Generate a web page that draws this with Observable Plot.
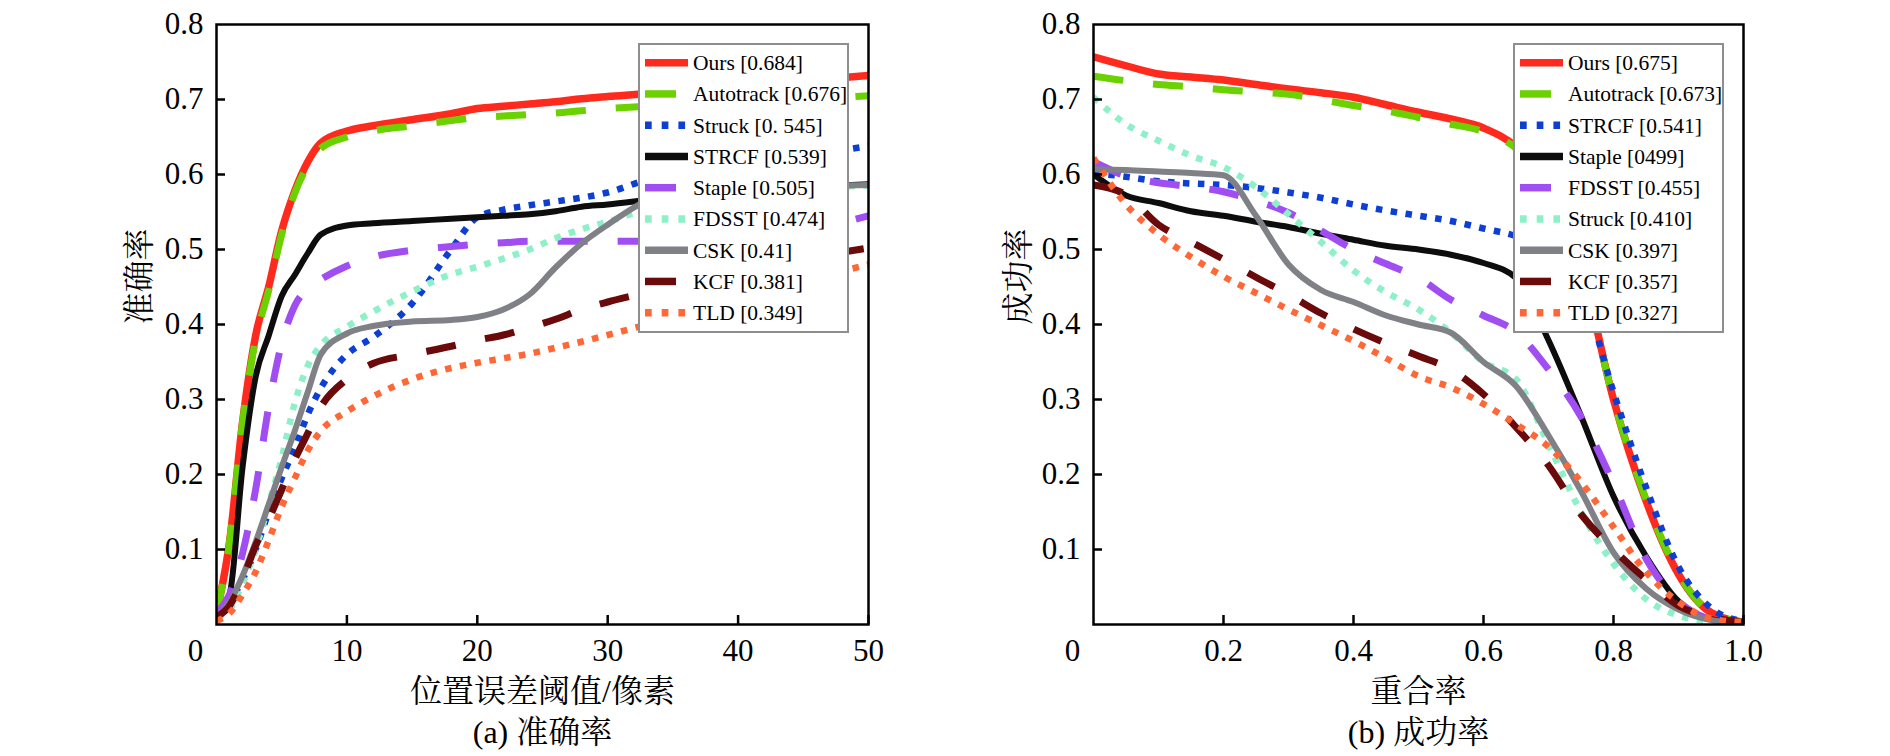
<!DOCTYPE html>
<html>
<head>
<meta charset="utf-8">
<script src="https://cdn.jsdelivr.net/npm/d3@7"></script>
<script src="https://cdn.jsdelivr.net/npm/@observablehq/plot@0.6"></script>
<style>
  html, body { margin: 0; padding: 0; background: #fff; }
  #wrap { position: relative; width: 1890px; height: 756px; overflow: hidden; background: #fff; }
  .panel { position: absolute; top: 0; }
  .legend { position: absolute; }
</style>
</head>
<body>
<div id="wrap"></div>
<script>
// ---------- (a) precision plot data ----------
const precisionThresholds = [0, 1, 2, 3, 4, 5, 6, 7, 8, 10, 12, 15, 18, 20, 22, 24, 26, 28, 30, 33, 36, 40, 45, 50];
const precisionOurs      = [0.015, 0.11, 0.27, 0.385, 0.45, 0.525, 0.578, 0.617, 0.642, 0.658, 0.665, 0.673, 0.681, 0.688, 0.691, 0.694, 0.697, 0.701, 0.704, 0.708, 0.713, 0.718, 0.725, 0.732];
const precisionAutotrack = [0.015, 0.11, 0.27, 0.38, 0.445, 0.52, 0.575, 0.612, 0.635, 0.65, 0.658, 0.665, 0.672, 0.676, 0.678, 0.68, 0.682, 0.685, 0.688, 0.691, 0.694, 0.697, 0.7, 0.705];
const precisionStruck    = [0.01, 0.03, 0.06, 0.1, 0.15, 0.195, 0.235, 0.28, 0.315, 0.36, 0.383, 0.428, 0.5, 0.543, 0.553, 0.559, 0.564, 0.569, 0.576, 0.593, 0.605, 0.615, 0.625, 0.638];
const precisionSTRCF     = [0.015, 0.04, 0.21, 0.33, 0.385, 0.438, 0.466, 0.495, 0.52, 0.532, 0.535, 0.538, 0.541, 0.543, 0.545, 0.547, 0.551, 0.557, 0.56, 0.566, 0.572, 0.578, 0.583, 0.587];
const precisionStaple    = [0.015, 0.04, 0.095, 0.18, 0.29, 0.375, 0.425, 0.448, 0.46, 0.478, 0.49, 0.499, 0.504, 0.507, 0.509, 0.511, 0.511, 0.511, 0.511, 0.511, 0.513, 0.515, 0.525, 0.545];
const precisionFDSST     = [0.01, 0.02, 0.055, 0.1, 0.16, 0.222, 0.295, 0.345, 0.372, 0.397, 0.417, 0.444, 0.467, 0.477, 0.488, 0.5, 0.515, 0.527, 0.537, 0.554, 0.566, 0.576, 0.582, 0.585];
const precisionCSK       = [0.01, 0.03, 0.065, 0.11, 0.16, 0.21, 0.258, 0.31, 0.36, 0.388, 0.398, 0.404, 0.406, 0.41, 0.42, 0.44, 0.476, 0.508, 0.533, 0.565, 0.578, 0.582, 0.584, 0.586];
const precisionKCF       = [0.01, 0.025, 0.06, 0.105, 0.14, 0.18, 0.22, 0.255, 0.29, 0.327, 0.348, 0.36, 0.371, 0.379, 0.386, 0.396, 0.407, 0.42, 0.43, 0.443, 0.458, 0.473, 0.488, 0.502];
const precisionTLD       = [0.005, 0.015, 0.04, 0.07, 0.112, 0.157, 0.195, 0.232, 0.258, 0.284, 0.304, 0.327, 0.342, 0.349, 0.355, 0.361, 0.369, 0.377, 0.386, 0.4, 0.416, 0.435, 0.458, 0.48];
const precisionNames  = ["Ours", "Autotrack", "Struck", "STRCF", "Staple", "FDSST", "CSK", "KCF", "TLD"];
const precisionScores = ["[0.684]", "[0.676]", "[0. 545]", "[0.539]", "[0.505]", "[0.474]", "[0.41]", "[0.381]", "[0.349]"];
const precisionXTicks = [10, 20, 30, 40, 50];

// ---------- (b) success plot data ----------
const overlapThresholds = [0, 0.05, 0.1, 0.15, 0.2, 0.25, 0.3, 0.35, 0.4, 0.45, 0.5, 0.55, 0.6, 0.65, 0.7, 0.75, 0.8, 0.85, 0.9, 0.95, 1.0];
const successOurs      = [0.757, 0.745, 0.734, 0.73, 0.726, 0.72, 0.714, 0.709, 0.703, 0.693, 0.683, 0.674, 0.662, 0.637, 0.585, 0.48, 0.3, 0.165, 0.067, 0.016, 0.003];
const successAutotrack = [0.731, 0.725, 0.72, 0.717, 0.713, 0.71, 0.707, 0.7, 0.692, 0.685, 0.676, 0.667, 0.657, 0.635, 0.583, 0.478, 0.3, 0.167, 0.068, 0.016, 0.003];
const successSTRCF     = [0.602, 0.597, 0.591, 0.588, 0.586, 0.582, 0.576, 0.569, 0.56, 0.552, 0.545, 0.538, 0.528, 0.518, 0.5, 0.45, 0.31, 0.183, 0.077, 0.022, 0.004];
const successStaple    = [0.6, 0.572, 0.562, 0.551, 0.545, 0.537, 0.53, 0.521, 0.513, 0.505, 0.5, 0.493, 0.482, 0.462, 0.379, 0.278, 0.171, 0.091, 0.031, 0.007, 0.002];
const successFDSST     = [0.617, 0.598, 0.589, 0.584, 0.577, 0.565, 0.549, 0.525, 0.5, 0.481, 0.462, 0.433, 0.412, 0.39, 0.34, 0.277, 0.188, 0.088, 0.031, 0.007, 0.002];
const successStruck    = [0.703, 0.667, 0.645, 0.625, 0.61, 0.583, 0.547, 0.51, 0.472, 0.443, 0.42, 0.389, 0.35, 0.327, 0.24, 0.15, 0.081, 0.034, 0.012, 0.004, 0.002];
const successCSK       = [0.607, 0.606, 0.604, 0.602, 0.599, 0.545, 0.48, 0.446, 0.43, 0.412, 0.4, 0.389, 0.35, 0.318, 0.252, 0.178, 0.096, 0.048, 0.02, 0.006, 0.002];
const successKCF       = [0.586, 0.573, 0.533, 0.51, 0.487, 0.463, 0.44, 0.415, 0.394, 0.375, 0.358, 0.34, 0.307, 0.263, 0.212, 0.147, 0.1, 0.06, 0.025, 0.01, 0.003];
const successTLD       = [0.622, 0.56, 0.52, 0.49, 0.464, 0.442, 0.42, 0.399, 0.378, 0.355, 0.331, 0.316, 0.294, 0.267, 0.237, 0.19, 0.13, 0.07, 0.03, 0.008, 0.003];
const successNames  = ["Ours", "Autotrack", "STRCF", "Staple", "FDSST", "Struck", "CSK", "KCF", "TLD"];
const successScores = ["[0.675]", "[0.673]", "[0.541]", "[0499]", "[0.455]", "[0.410]", "[0.397]", "[0.357]", "[0.327]"];
const successXTicks = [0.2, 0.4, 0.6, 0.8, 1.0];

const yTicks = [0.1, 0.2, 0.3, 0.4, 0.5, 0.6, 0.7, 0.8];

// ---------- line styles by legend position ----------
const styleColors = ["#ff2a1e", "#6cd100", "#0c3fd2", "#0d0d0d", "#a04ef2", "#8ef0c8", "#7f8186", "#6a0a0a", "#ff6736"];
const styleDash   = [null, "30,30", "6.5,8.5", null, "30,30", "6.5,8.5", null, "30,30", "6.5,8.5"];
const styleWidth  = [7.5, 7, 6.5, 6, 7, 6.5, 6, 7, 6.5];

const FONT = '"Liberation Serif", "Times New Roman", "Noto Serif CJK SC", "Noto Sans CJK SC", serif';

function makePanel({left, xs, series, names, scores, xDomain, xTicks, xFormat, xLabel, yLabel, caption, marginLeft, marginRight, yTitleDx}) {
  const W = 945, H = 756, mT = 24, mB = 132;
  const plotW = W - marginLeft - marginRight, plotH = H - mT - mB;
  const lines = series.map((vals, k) =>
    Plot.line(xs.map((x, i) => ({x, y: vals[i]})), {
      x: "x", y: "y", stroke: styleColors[k], strokeWidth: styleWidth[k],
      strokeDasharray: styleDash[k] || undefined, strokeLinecap: "butt", strokeLinejoin: "round",
      curve: "monotone-x", clip: true
    })
  );
  const chart = Plot.plot({
    width: W, height: H,
    marginLeft, marginRight, marginTop: mT, marginBottom: mB,
    style: {fontFamily: FONT, background: "transparent", color: "black", overflow: "visible"},
    x: {domain: xDomain},
    y: {domain: [0, 0.8]},
    marks: [
      ...lines,
      Plot.ruleX(xTicks, {x: d => d, stroke: "black", strokeWidth: 2.5, insetTop: plotH - 9}),
      Plot.ruleY(yTicks.slice(0, -1), {y: d => d, stroke: "black", strokeWidth: 2.5, insetRight: plotW - 9}),
      Plot.frame({stroke: "black", strokeWidth: 2.5}),
      Plot.axisX({ticks: xTicks, tickSize: 0, tickPadding: 14, tickFormat: xFormat, fontSize: 31, label: null, fill: "black"}),
      Plot.text([0], {x: d => d, frameAnchor: "bottom", dx: -21, dy: 14, text: () => "0", lineAnchor: "top", fontSize: 31, fill: "black"}),
      Plot.axisY({ticks: yTicks, tickSize: 0, tickPadding: 13, tickFormat: d3.format(".1f"), fontSize: 31, label: null, fill: "black"}),
      Plot.text([xLabel], {frameAnchor: "bottom", dy: 67, text: d => d, lineAnchor: "middle", fontSize: 32, fill: "black"}),
      Plot.text([caption], {frameAnchor: "bottom", dy: 108, text: d => d, lineAnchor: "middle", fontSize: 32, fill: "black"}),
      Plot.text([yLabel], {frameAnchor: "left", dx: yTitleDx, text: d => d, rotate: -90, lineAnchor: "middle", fontSize: 32, fill: "black"})
    ]
  });
  const holder = document.createElement("div");
  holder.className = "panel";
  holder.style.left = left + "px";
  holder.appendChild(chart);
  document.getElementById("wrap").appendChild(holder);

  // legend box (inside the frame, top-right)
  const boxW = 209, boxH = 288;
  const boxLeft = left + W - marginRight - 20 - boxW;
  const boxTop = mT + 20;
  const svg = d3.create("svg")
    .attr("class", "legend")
    .attr("width", boxW + 4).attr("height", boxH + 4)
    .style("left", (boxLeft - 2) + "px").style("top", (boxTop - 2) + "px");
  svg.append("rect").attr("x", 2).attr("y", 2).attr("width", boxW).attr("height", boxH)
    .attr("fill", "white").attr("stroke", "#8e8e8e").attr("stroke-width", 2);
  names.forEach((name, k) => {
    const cy = 2 + 18.7 + k * 31.25;
    svg.append("line").attr("x1", 2 + 6).attr("x2", 2 + 49).attr("y1", cy).attr("y2", cy)
      .attr("stroke", styleColors[k]).attr("stroke-width", 7.5)
      .attr("stroke-dasharray", styleDash[k] ? (styleDash[k].startsWith("30") ? "31,30" : "6.7,10") : null);
    svg.append("text").attr("x", 2 + 54).attr("y", cy + 7.5)
      .attr("font-family", FONT).attr("font-size", 21.5).attr("fill", "black")
      .text(name + " " + scores[k]);
  });
  document.getElementById("wrap").appendChild(svg.node());
}

makePanel({
  left: 0,
  xs: precisionThresholds,
  series: [precisionOurs, precisionAutotrack, precisionStruck, precisionSTRCF, precisionStaple, precisionFDSST, precisionCSK, precisionKCF, precisionTLD],
  names: precisionNames, scores: precisionScores,
  xDomain: [0, 50], xTicks: precisionXTicks, xFormat: d => String(d),
  xLabel: "位置误差阈值/像素", yLabel: "准确率", caption: "(a) 准确率",
  marginLeft: 216, marginRight: 77, yTitleDx: -77
});

makePanel({
  left: 945,
  xs: overlapThresholds,
  series: [successOurs, successAutotrack, successSTRCF, successStaple, successFDSST, successStruck, successCSK, successKCF, successTLD],
  names: successNames, scores: successScores,
  xDomain: [0, 1], xTicks: successXTicks, xFormat: d3.format(".1f"),
  xLabel: "重合率", yLabel: "成功率", caption: "(b) 成功率",
  marginLeft: 148, marginRight: 147, yTitleDx: -75
});
</script>
</body>
</html>
